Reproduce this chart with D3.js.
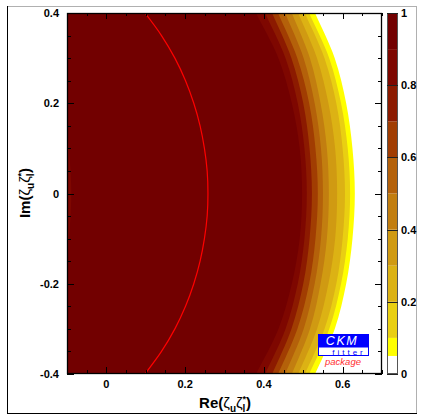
<!DOCTYPE html>
<html>
<head>
<meta charset="utf-8">
<script src="https://cdn.jsdelivr.net/npm/d3@7"></script>
<style>
  body { margin: 0; background: #fff; }
  text { font-family: "Liberation Sans", Arial, Helvetica, sans-serif; }
  .tick-label { font-size: 11px; font-weight: bold; }
  .axis-title { font-size: 15px; font-weight: bold; }
</style>
</head>
<body>
<div id="chart"></div>
<script>
// Im(zeta_u zeta_l*) positions where the contour edges were read
const imSteps = [0.4, 0.3, 0.2, 0.1, 0, -0.1, -0.2, -0.3, -0.4];

// Re position of each 1-CL contour edge at the Im values above
const edge90 = [0.380, 0.437, 0.471, 0.491, 0.497, 0.491, 0.471, 0.437, 0.380];
const edge80 = [0.403, 0.455, 0.486, 0.503, 0.509, 0.503, 0.486, 0.455, 0.403];
const edge70 = [0.421, 0.470, 0.500, 0.516, 0.522, 0.516, 0.500, 0.470, 0.421];
const edge60 = [0.436, 0.485, 0.515, 0.531, 0.537, 0.531, 0.515, 0.485, 0.436];
const edge50 = [0.454, 0.501, 0.529, 0.545, 0.550, 0.545, 0.529, 0.501, 0.454];
const edge40 = [0.471, 0.517, 0.544, 0.560, 0.565, 0.560, 0.544, 0.517, 0.471];
const edge30 = [0.487, 0.535, 0.564, 0.581, 0.586, 0.581, 0.564, 0.535, 0.487];
const edge20 = [0.504, 0.554, 0.584, 0.600, 0.606, 0.600, 0.584, 0.554, 0.504];
const edge10 = [0.515, 0.566, 0.596, 0.613, 0.619, 0.613, 0.596, 0.566, 0.515];
const edge05 = [0.530, 0.580, 0.609, 0.625, 0.631, 0.625, 0.609, 0.580, 0.530];

// small 0.9 crescent on the left edge
const imLeft = [0.2, 0.1, 0.05, 0, -0.05, -0.1, -0.2];
const reLeft = [-0.1, -0.095, -0.091, -0.089, -0.091, -0.095, -0.1];

// red contour line
const imLine = [0.4, 0.35, 0.3, 0.25, 0.2, 0.15, 0.1, 0.05, 0, -0.05, -0.1, -0.15, -0.2, -0.25, -0.3, -0.35, -0.4];
const reLine = [0.098, 0.140, 0.174, 0.201, 0.222, 0.238, 0.249, 0.256, 0.258, 0.256, 0.249, 0.238, 0.222, 0.201, 0.174, 0.140, 0.098];

// colour levels (1-CL)
const levelBounds = [0, 0.05, 0.1, 0.2, 0.3, 0.4, 0.5, 0.6, 0.7, 0.8, 0.9, 1];
const levelColors = ["#ffffff", "#ffff00", "#e9cf12", "#dcb214", "#d09a12", "#c27e10",
                     "#b4610a", "#a13d02", "#8c1a00", "#7e0700", "#720000"];
const colorbarTicks = [0, 0.2, 0.4, 0.6, 0.8, 1];

const xTicks = [0, 0.2, 0.4, 0.6];
const yTicks = [-0.4, -0.2, 0, 0.2, 0.4];

const W = 422, H = 420;
const plot = { left: 67, right: 382, top: 13, bottom: 374 };

const svg = d3.select("#chart")
    .append("svg")
    .attr("width", W)
    .attr("height", H);

// canvas frame
svg.append("line").attr("x1", 7).attr("x2", 417).attr("y1", 6.5).attr("y2", 6.5).attr("stroke", "#b0b0b0");
svg.append("line").attr("x1", 416.5).attr("x2", 416.5).attr("y1", 6).attr("y2", 414).attr("stroke", "#b0b0b0");
svg.append("line").attr("x1", 7.5).attr("x2", 7.5).attr("y1", 6).attr("y2", 414).attr("stroke", "#000");
svg.append("line").attr("x1", 7).attr("x2", 417).attr("y1", 413.5).attr("y2", 413.5).attr("stroke", "#000");

const xScale = d3.scaleLinear().domain([-0.1, 0.7]).range([plot.left, plot.right]);
const yScale = d3.scaleLinear().domain([-0.4, 0.4]).range([plot.bottom, plot.top]);

svg.append("clipPath").attr("id", "plotClip")
    .append("rect")
    .attr("x", plot.left).attr("y", plot.top)
    .attr("width", plot.right - plot.left).attr("height", plot.bottom - plot.top);

const g = svg.append("g").attr("clip-path", "url(#plotClip)");

// base colour: 0.9 - 1
g.append("rect")
    .attr("x", plot.left).attr("y", plot.top)
    .attr("width", plot.right - plot.left).attr("height", plot.bottom - plot.top)
    .attr("fill", levelColors[10]);

const edges = [edge90, edge80, edge70, edge60, edge50, edge40, edge30, edge20, edge10, edge05];

const bandArea = d3.area()
    .y(d => yScale(d.im))
    .x0(d => xScale(d.re))
    .x1(xScale(0.75))
    .curve(d3.curveCatmullRom);

edges.forEach((edge, i) => {
    const pts = imSteps.map((im, j) => ({ im: im, re: edge[j] }));
    // extend past the frame so the clip cuts the ends
    pts.unshift({ im: 0.45, re: edge[0] - (edge[1] - edge[0]) * 0.5 });
    pts.push({ im: -0.45, re: edge[8] - (edge[7] - edge[8]) * 0.5 });
    g.append("path")
        .datum(pts)
        .attr("d", bandArea)
        .attr("fill", levelColors[9 - i]);
});

const leftArea = d3.area()
    .y(d => yScale(d.im))
    .x0(xScale(-0.12))
    .x1(d => xScale(d.re))
    .curve(d3.curveCatmullRom);

g.append("path")
    .datum(imLeft.map((im, j) => ({ im: im, re: reLeft[j] })))
    .attr("d", leftArea)
    .attr("fill", levelColors[9]);

const redLine = d3.line()
    .x(d => xScale(d.re))
    .y(d => yScale(d.im))
    .curve(d3.curveCatmullRom);

g.append("path")
    .datum(imLine.map((im, j) => ({ im: im, re: reLine[j] })))
    .attr("d", redLine)
    .attr("fill", "none")
    .attr("stroke", "#ff0000")
    .attr("stroke-width", 1.2);

// frame + inward ticks on all sides
const frame = svg.append("g");
frame.append("rect")
    .attr("x", plot.left + 0.5).attr("y", plot.top + 0.5)
    .attr("width", plot.right - plot.left - 1).attr("height", plot.bottom - plot.top - 1)
    .attr("fill", "none").attr("stroke", "#000").attr("stroke-width", 1.3);

const minorX = d3.range(-0.1, 0.7001, 0.05);
const minorY = d3.range(-0.4, 0.4001, 0.05);
const isMajor = v => Math.abs(v / 0.2 - Math.round(v / 0.2)) < 1e-6;

minorX.forEach(v => {
    const len = isMajor(v) ? 7 : 4;
    const px = Math.round(xScale(v)) + 0.5;
    frame.append("line").attr("x1", px).attr("x2", px)
        .attr("y1", plot.bottom).attr("y2", plot.bottom - len).attr("stroke", "#000");
    frame.append("line").attr("x1", px).attr("x2", px)
        .attr("y1", plot.top).attr("y2", plot.top + len - 1).attr("stroke", "#000");
});

minorY.forEach(v => {
    const len = isMajor(v) ? 7 : 4;
    const py = Math.round(yScale(v)) + 0.5;
    frame.append("line").attr("x1", plot.left).attr("x2", plot.left + len)
        .attr("y1", py).attr("y2", py).attr("stroke", "#000");
    frame.append("line").attr("x1", plot.right).attr("x2", plot.right - len)
        .attr("y1", py).attr("y2", py).attr("stroke", "#000");
});

svg.selectAll(".xlab")
    .data(xTicks)
    .enter()
    .append("text")
    .attr("class", "tick-label")
    .attr("x", d => xScale(d))
    .attr("y", 388)
    .attr("text-anchor", "middle")
    .text(d => d);

svg.selectAll(".ylab")
    .data(yTicks)
    .enter()
    .append("text")
    .attr("class", "tick-label")
    .attr("x", 59)
    .attr("y", d => yScale(d) + 4)
    .attr("text-anchor", "end")
    .text(d => d);

// axis titles
function zetaTitle(sel, prefix) {
    sel.append("tspan").text(prefix + "(");
    sel.append("tspan").attr("font-weight", "normal").text("ζ");
    sel.append("tspan").attr("font-size", "10px").attr("dy", 4).text("u");
    sel.append("tspan").attr("font-weight", "normal").attr("dy", -4).text("ζ");
    sel.append("tspan").attr("font-size", "10px").attr("dy", 4).text("l");
    sel.append("tspan").attr("font-size", "9px").attr("dx", -3).attr("dy", -10).text("*");
    sel.append("tspan").attr("dy", 6).text(")");
}

svg.append("text")
    .attr("class", "axis-title")
    .attr("x", 225)
    .attr("y", 408)
    .attr("text-anchor", "middle")
    .call(zetaTitle, "Re");

svg.append("text")
    .attr("class", "axis-title")
    .attr("transform", "translate(30,193) rotate(-90)")
    .attr("text-anchor", "middle")
    .call(zetaTitle, "Im");

// colour bar
const cb = { left: 387, right: 398 };
const cScale = d3.scaleLinear().domain([0, 1]).range([plot.bottom, plot.top]);

svg.selectAll(".cbseg")
    .data(levelColors)
    .enter()
    .append("rect")
    .attr("x", cb.left)
    .attr("width", cb.right - cb.left)
    .attr("y", (d, i) => cScale(levelBounds[i + 1]))
    .attr("height", (d, i) => cScale(levelBounds[i]) - cScale(levelBounds[i + 1]))
    .attr("fill", d => d);

svg.append("rect")
    .attr("x", cb.left + 0.5).attr("y", plot.top + 0.5)
    .attr("width", cb.right - cb.left - 1).attr("height", plot.bottom - plot.top - 1)
    .attr("fill", "none").attr("stroke", "#555");

colorbarTicks.forEach(v => {
    const py = Math.round(cScale(v)) + 0.5;
    svg.append("line").attr("x1", cb.left).attr("x2", cb.right)
        .attr("y1", py).attr("y2", py).attr("stroke", "#222").attr("stroke-width", 1);
});

svg.selectAll(".cblab")
    .data(colorbarTicks)
    .enter()
    .append("text")
    .attr("class", "tick-label")
    .attr("x", 401)
    .attr("y", d => cScale(d) + 4)
    .text(d => d);

// CKMfitter logo
const logo = svg.append("g");
logo.append("rect").attr("x", 318).attr("y", 334).attr("width", 51).attr("height", 13).attr("fill", "#0000ff");
logo.append("rect").attr("x", 318.5).attr("y", 347).attr("width", 50).attr("height", 8.5)
    .attr("fill", "#fff").attr("stroke", "#0000ff").attr("stroke-width", 1);
logo.append("text").attr("x", 342).attr("y", 345).attr("text-anchor", "middle")
    .attr("font-size", "12.5px").attr("font-style", "italic").attr("letter-spacing", "1.5px")
    .attr("fill", "#fff").text("CKM");
logo.append("text").attr("x", 349).attr("y", 354.5).attr("text-anchor", "middle")
    .attr("font-size", "8px").attr("letter-spacing", "3px")
    .attr("fill", "#0000ff").text("fitter");
logo.append("text").attr("x", 343).attr("y", 365).attr("text-anchor", "middle")
    .attr("font-size", "9.5px").attr("font-style", "italic")
    .attr("fill", "#ff3030").text("package");
</script>
</body>
</html>
